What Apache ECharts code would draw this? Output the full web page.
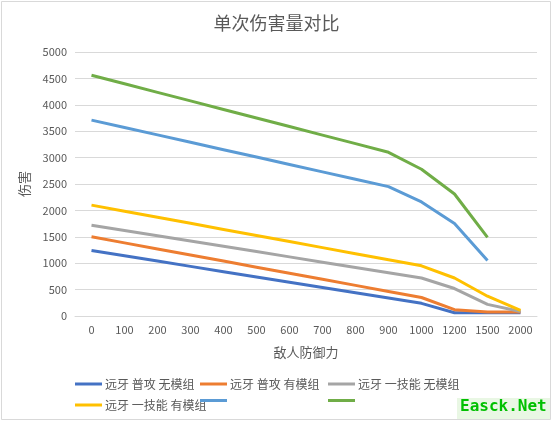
<!DOCTYPE html>
<html>
<head>
<meta charset="utf-8">
<script src="https://cdn.jsdelivr.net/npm/echarts@6/dist/echarts.min.js"></script>
<style>
  html, body { margin: 0; padding: 0; background: #fff; }
  #chart { width: 553px; height: 422px; }
</style>
</head>
<body>
<div id="chart"></div>
<script>
// defence values on the x axis
const defence = ['0', '100', '200', '300', '400', '500', '600', '700', '800', '900', '1000', '1200', '1500', '2000'];

const seriesNames = ['远牙 普攻 无模组', '远牙 普攻 有模组', '远牙 一技能 无模组', '远牙 一技能 有模组', 's5', 's6'];
const legendText = { s5: '', s6: '' };

const normalNoMod = [1240, 1140, 1040, 940, 840, 740, 640, 540, 440, 340, 240, 62, 62, 62];
const normalMod = [1500, 1385, 1270, 1155, 1040, 925, 810, 695, 580, 465, 350, 120, 75, 75];
const skillNoMod = [1720, 1620, 1520, 1420, 1320, 1220, 1120, 1020, 920, 820, 720, 520, 220, 86];
const skillMod = [2100, 1985, 1870, 1755, 1640, 1525, 1410, 1295, 1180, 1065, 950, 720, 375, 105];
const series5 = [3710, 3570, 3430, 3290, 3150, 3010, 2870, 2730, 2590, 2450, 2160, 1750, 1050, null];
const series6 = [4560, 4398, 4236, 4074, 3912, 3750, 3588, 3426, 3264, 3100, 2780, 2310, 1490, null];

const colors = ['#4472C4', '#ED7D31', '#A5A5A5', '#FFC000', '#5B9BD5', '#70AD47'];
const allData = [normalNoMod, normalMod, skillNoMod, skillMod, series5, series6];

const font = '"Noto Sans CJK SC", "Noto Sans", sans-serif';
const textColor = '#595959';

const chart = echarts.init(document.getElementById('chart'));

// one vertical legend per column, like Excel's grid legend
function legendCol(left, names) {
  return {
    orient: 'vertical',
    left: left,
    top: 378,
    padding: 0,
    itemGap: 9,
    icon: 'rect',
    itemWidth: 27,
    itemHeight: 3,
    data: names,
    formatter: name => (name in legendText ? legendText[name] : name),
    textStyle: { color: textColor, fontSize: 12, fontFamily: font, padding: [0, 0, 0, -2] }
  };
}

const option = {
  backgroundColor: '#fff',
  color: colors,
  title: {
    text: '单次伤害量对比',
    left: 'center',
    top: 9,
    textStyle: { color: textColor, fontSize: 18, fontWeight: 'normal', fontFamily: font }
  },
  legend: [
    legendCol(75, [seriesNames[0], seriesNames[3]]),
    legendCol(200, [seriesNames[1], seriesNames[4]]),
    legendCol(328, [seriesNames[2], seriesNames[5]])
  ],
  grid: { left: 75, right: 16, top: 52, bottom: 106 },
  xAxis: {
    type: 'category',
    data: defence,
    name: '敌人防御力',
    nameLocation: 'middle',
    nameGap: 30,
    nameTextStyle: { color: textColor, fontSize: 13, fontFamily: font },
    axisLine: { lineStyle: { color: '#d9d9d9', width: 1 } },
    axisTick: { show: false },
    axisLabel: { color: textColor, fontSize: 11, fontFamily: font, margin: 8, interval: 0 }
  },
  yAxis: {
    type: 'value',
    min: 0,
    max: 5000,
    interval: 500,
    name: '伤害',
    nameLocation: 'middle',
    nameGap: 44,
    nameRotate: 90,
    nameTextStyle: { color: textColor, fontSize: 13, fontFamily: font },
    axisLine: { show: false },
    axisTick: { show: false },
    axisLabel: { color: textColor, fontSize: 11, fontFamily: font, margin: 8, formatter: v => String(v) },
    splitLine: { lineStyle: { color: '#d9d9d9', width: 1 } }
  },
  series: allData.map((d, i) => ({
    name: seriesNames[i],
    type: 'line',
    data: d,
    showSymbol: false,
    symbol: 'none',
    lineStyle: { width: 3, color: colors[i] },
    itemStyle: { color: colors[i] }
  })),
  graphic: [
    {
      type: 'rect',
      shape: { x: 1.5, y: 1.5, width: 549, height: 418 },
      style: { fill: 'none', stroke: '#d9d9d9', lineWidth: 1 },
      silent: true
    },
    {
      type: 'rect',
      shape: { x: 457, y: 398, width: 93, height: 21 },
      style: { fill: '#e9f7e4' },
      silent: true
    },
    {
      type: 'text',
      left: 460,
      top: 399,
      style: { text: 'Easck.Net', fill: '#00c000', font: 'bold 16px "DejaVu Sans Mono", monospace' },
      silent: true
    }
  ]
};

chart.setOption(option);
</script>
</body>
</html>
